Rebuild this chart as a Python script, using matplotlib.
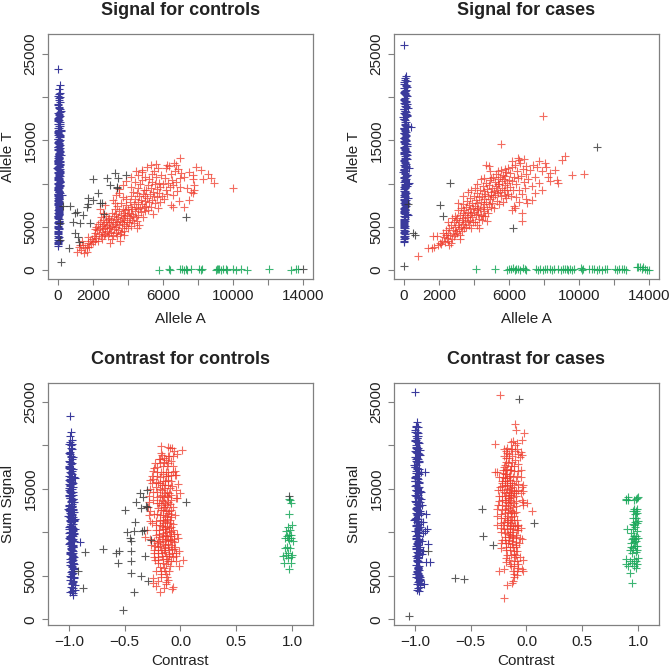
import numpy as np
import matplotlib
matplotlib.use("Agg")
import matplotlib.pyplot as plt

plt.rcParams['font.family'] = ['Liberation Sans', 'DejaVu Sans']

# ---------------- data (Allele A, Allele T) ----------------
# controls, genotype TT (blue)
blue_ctrl_T = [23300, 21400, 20950, 20480, 20160, 19870, 19420, 19110, 18730, 18450,
               18020, 17860, 17510, 17330, 17090, 16840, 16610, 16370, 16150, 15920,
               15700, 15480, 15210, 15030, 14790, 14560, 14380, 14120, 13940, 13650,
               13470, 13260, 13010, 12830, 12570, 12390, 12140, 11960, 11720, 11530,
               11290, 11080, 10860, 10610, 10440, 10230, 10010, 9820, 9590, 9370,
               9160, 8940, 8750, 8510, 8330, 8090, 7880, 7640, 7420, 7230,
               6980, 6760, 6530, 6310, 6070, 5840, 5560, 5290, 4970, 4720,
               4390, 4110, 3860, 3520, 3240, 2960, 2720, 17640, 16030, 14870,
               13720, 12660, 11410, 10540, 9710, 8620, 7950, 7110, 6420, 5710,
               15590, 13120, 11850, 10330, 9040, 18260, 12260, 9480, 8210, 6850,
               18870, 18140, 17720, 17200, 16920, 16480, 16240, 15840, 15620, 15350,
               15110, 14930, 14680, 14450, 14210, 14030, 13840, 13560, 13390, 13140,
               12930, 12720, 12480, 12210, 12050, 11870, 11630, 11380, 11170, 10940,
               10720, 10490, 10350, 10120, 9910, 9670, 9450, 9240, 9020, 8830,
               8610, 8420, 8180, 7990, 7760, 7530, 7310, 7090, 6880, 6640,
               6420, 6190, 5970, 5680, 5430, 5110, 4850, 4530, 4240, 3980,
               3690, 3370, 3090, 19650, 19230, 18580, 17970, 17410, 16690, 16070,
               15410, 14640, 13880, 13330, 12610, 11930, 11240, 10680, 10080, 9550,
               8980, 8380, 7690, 7040, 6210, 5500, 4810, 20320, 19980, 16200,
               14250, 12950, 12450, 11650, 10900, 10400, 9870, 9300, 8700, 7600]
blue_ctrl_A = [40, 110, 60, 150, 20, 90, 130, 10, 70, 160,
               45, 120, 5, 80, 140, 30, 100, 60, 170, 15,
               85, 125, 40, 150, 0, 95, 65, 135, 25, 110,
               55, 160, 10, 75, 120, 35, 145, 90, 20, 60,
               130, 45, 100, 5, 80, 150, 30, 115, 60, 10,
               90, 100, 25, 70, 80, 40, 60, 15, 55, 70,
               50, 60, 20, 75, 40, 60, 35, 45, 10, 50,
               40, 30, 50, 35, 20, 30, 25, 10, 200, 70,
               120, -15, 150, 35, 100, 220, 50, 80, 60, 70,
               0, 90, -20, 100, 60, 130, 100, 20, 70, 50,
               60, 20, 90, 40, 110, 5, 75, 30, 100, 50,
               15, 85, 45, 120, 0, 70, 35, 95, 55, 10,
               80, 25, 105, 40, 65, 0, 90, 30, 115, 50,
               20, 75, 45, 100, 10, 60, 85, 25, 70, 40,
               5, 55, 80, 30, 65, 15, 50, 70, 20, 45,
               60, 10, 40, 55, 25, 35, 50, 15, 40, 30,
               20, 45, 10, 70, 30, 100, 55, 15, 80, 40,
               110, 25, 60, 90, -10, 70, 35, 50, 95, 20,
               65, 40, 10, 60, 30, 45, 25, 50, 120, 85,
               10, 75, 35, 100, 55, 5, 70, 40, 20, 60]

# controls, genotype AT (red)
red_ctrl = [
    (1090, 2080), (1200, 2600), (1350, 2300), (1450, 2900), (1550, 2500), (1660, 2660),
    (1700, 3100), (1800, 2700), (1850, 3400), (1900, 2950), (1950, 3600), (1400, 3300),
    (1250, 2900), (1750, 3800), (2000, 3200), (1500, 1950), (1650, 2100),
    (2050, 3900), (2100, 3400), (2150, 4300), (2200, 3700), (2250, 4600), (2300, 3300),
    (2350, 4100), (2400, 4800), (2450, 3900), (2500, 4400), (2500, 5100), (2550, 3600),
    (2600, 4700), (2650, 5300), (2700, 4200), (2700, 4900), (2750, 5600), (2800, 4500),
    (2800, 5200), (2850, 3900), (2900, 4800), (2900, 5500), (2950, 6000), (2950, 4300),
    (3000, 5000), (2600, 5800), (2400, 5500), (2200, 5000), (2750, 6200), (2850, 5900),
    (2650, 4000), (2100, 4700), (2300, 5300), (2450, 6100), (2980, 3100), (2400, 7000),
    (2700, 7500), (2600, 6600),
    (3050, 4400), (3050, 5800), (3100, 5100), (3100, 6600), (3150, 4000), (3150, 5500),
    (3200, 6200), (3200, 4700), (3250, 5300), (3250, 7000), (3300, 4300), (3300, 5900),
    (3350, 6500), (3350, 5000), (3400, 5600), (3400, 7400), (3450, 4600), (3450, 6100),
    (3500, 5200), (3500, 6800), (3550, 5700), (3550, 4100), (3600, 6300), (3600, 7700),
    (3650, 4900), (3650, 5500), (3700, 6000), (3700, 7100), (3750, 5300), (3750, 6600),
    (3800, 4500), (3800, 5800), (3850, 6900), (3850, 6200), (3900, 5100), (3900, 7500),
    (3950, 6400), (3950, 5600), (4000, 4900), (4000, 7000), (3120, 3600), (3380, 3900),
    (3620, 4400), (3880, 8200), (3250, 7800), (3700, 8400), (3480, 8900), (3150, 8100),
    (3550, 3300), (3800, 4000), (3500, 9400), (3700, 9800), (3900, 10300), (3300, 8700),
    (4050, 5500), (4050, 6600), (4100, 7900), (4100, 6000), (4150, 5100), (4150, 7300),
    (4200, 6500), (4200, 8600), (4250, 5800), (4250, 7000), (4300, 6200), (4300, 9000),
    (4350, 7600), (4350, 5400), (4400, 6800), (4400, 8200), (4450, 6100), (4450, 7300),
    (4500, 8900), (4500, 5700), (4550, 7000), (4550, 9500), (4600, 6400), (4600, 7900),
    (4650, 8500), (4650, 5200), (4700, 7200), (4700, 9900), (4750, 6700), (4750, 8100),
    (4800, 7600), (4800, 10400), (4850, 6100), (4850, 8800), (4900, 7300), (4900, 9300),
    (4950, 8000), (4950, 6800), (5000, 8600), (5000, 10800), (4400, 10200), (4600, 11000),
    (4800, 11300), (4150, 9600), (4500, 4800), (4800, 11600), (4200, 10800), (4450, 11500),
    (5050, 7400), (5050, 9200), (5100, 8300), (5100, 11900), (5150, 6900), (5150, 9800),
    (5200, 7900), (5200, 10500), (5250, 8800), (5300, 7300), (5300, 9500), (5350, 11100),
    (5400, 8100), (5400, 10200), (5450, 6500), (5450, 9000), (5500, 8600), (5500, 11400),
    (5550, 7700), (5550, 9900), (5600, 10700), (5650, 8400), (5650, 9400), (5700, 7200),
    (5700, 11800), (5750, 8900), (5800, 10100), (5850, 9600), (5850, 7900), (5900, 11000),
    (5950, 8500), (6000, 9900), (5300, 12100), (5600, 12300),
    (6050, 8200), (6100, 10600), (6150, 9300), (6200, 11800), (6250, 8800), (6300, 10100),
    (6350, 12000), (6400, 9600), (6450, 7500), (6450, 11100), (6500, 10400), (6550, 8700),
    (6600, 9800), (6650, 12400), (6700, 11400), (6750, 10200), (6800, 9100), (6850, 11700),
    (6900, 8000), (6950, 10600), (7000, 12900), (7000, 9600), (6250, 12200), (6600, 7300),
    (7050, 11200), (6720, 12150),
    (7200, 10800), (7400, 9500), (7500, 11300), (7600, 9000), (7700, 10500), (7800, 9800),
    (7900, 11900), (8150, 11570), (8300, 10500), (8550, 11100), (8720, 10640), (8900, 10070),
    (9980, 9490), (7460, 8100), (7180, 7290), (7690, 11000), (7750, 9260), (7690, 8900),
]

# controls, no call (black)
black_ctrl = [
    (2010, 10530), (2810, 10640), (3270, 11220), (3440, 10640), (3900, 10990), (2980, 9830),
    (3380, 9600), (2300, 8910), (1720, 8330), (2010, 8100), (290, 7400), (690, 7400),
    (980, 6600), (1090, 6710), (1440, 6360), (1660, 7290), (1840, 5440), (1260, 5440),
    (860, 5550), (2530, 7750), (115, 5440), (980, 4280), (1150, 3820), (1200, 3240),
    (630, 2550), (115, 3470), (170, 925), (2640, 6480), (7290, 6130), (14000, 100),
    (2410, 7750), (1720, 7640), (3380, 9490),
]

# controls, genotype AA (green)
green_ctrl_A = [5760, 6330, 6430, 7000, 7100, 7190, 7290, 7390, 7580, 8050,
                8150, 8250, 9010, 9110, 9170, 9220, 9300, 9400, 9590, 9680,
                9970, 10160, 10450, 10790, 12070, 13280, 13600, 13700]
green_ctrl_T = [40, 120, 10, 60, 150, 20, 90, 0, 70, 130,
                30, 100, -20, 50, 140, 80, 10, 110, 60, 20,
                130, 40, 90, 0, 70, 30, 50, 100]

# cases, genotype TT (blue)
blue_case_T = [26030, 22480, 22170, 21860, 21530, 21240, 20870, 20610, 20330, 20080,
               19790, 19520, 19340, 19020, 18810, 18570, 18260, 18040, 17830, 17520,
               17310, 17080, 16790, 16500, 16280, 15970, 15760, 15480, 15230, 15040,
               14730, 14520, 14280, 13970, 13760, 13480, 13270, 13010, 12720, 12530,
               12260, 12010, 11780, 11540, 11230, 11020, 10790, 10510, 10280, 10060,
               9810, 9540, 9320, 9070, 8810, 8580, 8330, 8070, 7820, 7590,
               7330, 7080, 6830, 6590, 6310, 6080, 5810, 5520, 5240, 4960,
               4670, 4390, 4120, 3860, 3540, 3210, 19180, 17680, 16110, 14390,
               12880, 11390, 9920, 8450, 6960, 5680, 4520, 3930, 20490, 18690,
               15860, 13620, 11860, 10170, 9190, 7710, 6420, 5060, 16500, 14860,
               22010, 21710, 21380, 21060, 20750, 20460, 20190, 19920, 19670, 19420,
               19150, 18920, 18680, 18430, 18150, 17940, 17650, 17420, 17170, 16930,
               16660, 16390, 16180, 15880, 15620, 15360, 15130, 14880, 14620, 14380,
               14110, 13860, 13610, 13370, 13130, 12860, 12620, 12380, 12130, 11890,
               11650, 11400, 11120, 10890, 10640, 10380, 10150, 9930, 9670, 9430,
               9180, 8940, 8690, 8450, 8210, 7950, 7700, 7460, 7210, 6950,
               6700, 6460, 6190, 5950, 5650, 5380, 5110, 4820, 4540, 4250,
               3980, 3700, 3380, 21200, 19600, 18000, 16400, 14950, 13450, 12000,
               10700, 9550, 8150, 6650, 5300, 20700, 17950, 15300, 12950, 10950,
               8900, 7050, 4800, 18350, 16650, 14150, 11550, 9700, 7400, 5900]
blue_case_A = [30, 120, 50, 160, 20, 100, 140, 10, 80, 170,
               40, 130, 0, 90, 150, 25, 110, 65, 180, 15,
               95, 135, 45, 160, -10, 105, 70, 145, 30, 120,
               60, 170, 15, 85, 130, 40, 155, 95, 25, 65,
               140, 50, 290, 5, 85, 160, 35, 125, 65, 280,
               95, 70, 30, 75, 60, 45, 260, 20, 90, 50,
               55, 50, 25, 40, 230, 55, 40, 30, 15, 40,
               30, 35, 50, 40, 25, 30, 200, -20, 60, 190,
               210, -25, 240, 20, 50, 40, 50, 80, 60, 220,
               10, 190, 120, 60, 80, 150, 170, 45, 400, 30,
               70, 20, 110, 40, 90, 10, 130, 55, 25, 100,
               45, 120, 5, 80, 35, 140, 60, 15, 95, 50,
               110, 30, 75, 0, 125, 45, 90, 20, 65, 105,
               35, 80, 10, 115, 50, 70, 25, 95, 40, 60,
               15, 85, 50, 100, 30, 65, 10, 75, 45, 90,
               20, 70, 40, 55, 10, 80, 30, 60, 20, 50,
               35, 65, 15, 45, 55, 25, 40, 10, 50, 30,
               20, 45, 15, 160, 90, 130, -15, 105, 30, 150,
               60, 20, 100, 45, 35, 75, 180, 0, 110, 210,
               140, 30, 50, 60, 230, 90, 20, 180, 115, 40]

# cases, genotype AT (red)
red_case = [
    (800, 1620), (1600, 2540), (1940, 2890), (1750, 2700), (2050, 3100), (2150, 2950),
    (2200, 3400), (2300, 3800), (2350, 3200), (2400, 4000), (2250, 4300), (1900, 3900),
    (1660, 3930), (1370, 2540),
    (2450, 3700), (2500, 4300), (2550, 3300), (2600, 4800), (2650, 4000), (2700, 5200),
    (2750, 3600), (2800, 4600), (2850, 5500), (2900, 4200), (2950, 5000), (3000, 5800),
    (2550, 5600), (2700, 3100), (2850, 3900), (2600, 2900), (3000, 4500), (2900, 6200),
    (2400, 4600), (2750, 6000),
    (3050, 4300), (3050, 6000), (3100, 5200), (3100, 6900), (3150, 4700), (3150, 5600),
    (3200, 6300), (3200, 4000), (3250, 5000), (3250, 7200), (3300, 5800), (3300, 4500),
    (3350, 6600), (3350, 5300), (3400, 6000), (3400, 7600), (3450, 4800), (3450, 6900),
    (3500, 5500), (3500, 6300), (3550, 7300), (3550, 5000), (3600, 6100), (3600, 8000),
    (3650, 5700), (3650, 6700), (3700, 5200), (3700, 7500), (3750, 6300), (3750, 8300),
    (3800, 5800), (3800, 7000), (3850, 6600), (3850, 4900), (3900, 7700), (3900, 6100),
    (3950, 5500), (3950, 7200), (4000, 6700), (4000, 8600), (3080, 7750), (3650, 9000),
    (3400, 8500), (3850, 9300), (3200, 3600),
    (4050, 5600), (4050, 7400), (4100, 6300), (4100, 8100), (4150, 6900), (4150, 5200),
    (4200, 7700), (4200, 8900), (4250, 6500), (4250, 7200), (4300, 5900), (4300, 8400),
    (4350, 7000), (4350, 9300), (4400, 6400), (4400, 7900), (4450, 8600), (4450, 5800),
    (4500, 7300), (4500, 9700), (4550, 6800), (4550, 8200), (4600, 7600), (4600, 9100),
    (4650, 6200), (4650, 8800), (4700, 7900), (4700, 10100), (4750, 7100), (4750, 9400),
    (4800, 8500), (4800, 6600), (4850, 9800), (4850, 7600), (4900, 8200), (4900, 10400),
    (4950, 7300), (4950, 9000), (5000, 8700), (5000, 10600), (4850, 12030), (4700, 12200),
    (4400, 10500), (4200, 9900), (4600, 10600), (4900, 11400), (4300, 4900), (4750, 5700),
    (4050, 9500), (4500, 6200),
    (5050, 7800), (5050, 9500), (5100, 8400), (5100, 10800), (5150, 9100), (5150, 7200),
    (5200, 10200), (5200, 8700), (5250, 9700), (5250, 11100), (5300, 8000), (5300, 9300),
    (5350, 10500), (5350, 8900), (5400, 9900), (5400, 11400), (5450, 7600), (5450, 10000),
    (5500, 9000), (5500, 10700), (5550, 8500), (5550, 11600), (5600, 9500), (5600, 10300),
    (5650, 7900), (5650, 11000), (5700, 9200), (5700, 10500), (5750, 8700), (5750, 11700),
    (5800, 9800), (5800, 10900), (5850, 8300), (5850, 11300), (5900, 10100), (5900, 9300),
    (5950, 11800), (5950, 8800), (6000, 10400), (5540, 14580),
    (6050, 9600), (6050, 11200), (6100, 8600), (6150, 10300), (6170, 6940), (6200, 11900),
    (6250, 9200), (6300, 10800), (6350, 12200), (6400, 8400), (6400, 9900), (6450, 11500),
    (6500, 10600), (6550, 7900), (6600, 9300), (6650, 12400), (6700, 10900), (6740, 5670),
    (6750, 8800), (6800, 11700), (6850, 10200), (6900, 9500), (6950, 12000), (7000, 11100),
    (7000, 8200), (6300, 7400), (6600, 12700), (6850, 12800), (6500, 13000), (6150, 12600),
    (6340, 7170), (6740, 6600),
    (7100, 10500), (7200, 11600), (7300, 9700), (7400, 12100), (7480, 8910), (7310, 8100),
    (7500, 10800), (7600, 11900), (7700, 10100), (7880, 9260), (7900, 11400), (7940, 17820),
    (8050, 12380), (8200, 10800), (8340, 11220), (8340, 10300), (8620, 11570), (8740, 10410),
    (8790, 10070), (9020, 12730), (9190, 13190), (9590, 10990), (10280, 11110), (7700, 12600),
    (8100, 11900), (7020, 7750),
]

# cases, no call (black)
black_case = [
    (-5, 405), (230, 7640), (510, 4280), (630, 4050), (2060, 7520), (2230, 6250),
    (2630, 10070), (6220, 4860), (11020, 14230),
]

# cases, genotype AA (green)
green_case_A = [4110, 5200, 5900, 6010, 6090, 6210, 6340, 6430, 6530, 6620,
                6780, 6910, 7000, 7540, 7670, 7800, 7920, 8050, 8150, 8340,
                8430, 8570, 8810, 8950, 9060, 9190, 9290, 9380, 9480, 9570,
                9710, 10090, 10150, 10200, 10580, 10720, 10850, 11000, 11150, 11290,
                11480, 11610, 12050, 12140, 12300, 12430, 12560, 12680, 13290, 13380,
                13480, 13570, 13670, 13760, 13890, 14000]
green_case_T = [60, 100, 20, 140, 50, 170, 10, 80, 120, 30,
                190, 60, 0, 110, 40, 150, 20, 90, 130, 50,
                10, 140, 70, 30, 120, 60, 100, 0, 80, 40,
                150, 270, 20, 110, 60, 90, 130, 30, 70, 10,
                120, 50, 80, 20, 140, 60, 100, 40, 360, 300,
                380, 120, 330, 60, 20, 0]

BLUE = '#3a3a9c'
RED = '#ef3b2b'
GREEN = '#1aa85a'
BLACK = '#333333'
TEXT = '#222222'
FRAME = '#808080'


def contrast(a, t):
    # affy style contrast, K = 2
    a = np.asarray(a, dtype=float)
    t = np.asarray(t, dtype=float)
    return np.sinh(2 * (a - t) / (a + t)) / np.sinh(2)


def groups_for(blue_A, blue_T, red, black, green_A, green_T):
    red = np.array(red, dtype=float)
    black = np.array(black, dtype=float)
    return [
        (np.array(blue_A, float), np.array(blue_T, float), BLUE, 1.0),
        (red[:, 0], red[:, 1], RED, 0.75),
        (np.array(green_A, float), np.array(green_T, float), GREEN, 0.85),
        (black[:, 0], black[:, 1], BLACK, 0.8),
    ]


def style_axes(ax, title, xlabel, ylabel, xpad):
    for sp in ax.spines.values():
        sp.set_color(FRAME)
        sp.set_linewidth(0.9)
    ax.tick_params(axis='both', which='both', direction='out', length=4.5, width=0.8,
                   color=FRAME, labelcolor=TEXT, labelsize=11, pad=3)
    ax.tick_params(top=False, right=False)
    ax.set_yticks([0, 5000, 10000, 15000, 20000, 25000])
    ax.set_yticklabels(['0', '5000', '', '15000', '', '25000'], rotation=90, va='center')
    ax.set_title(title, fontsize=13, fontweight='bold', color=TEXT, pad=14)
    ax.set_xlabel(xlabel, fontsize=11, color=TEXT, labelpad=xpad)
    ax.set_ylabel(ylabel, fontsize=11, color=TEXT, labelpad=6)


def signal_panel(ax, groups, title):
    for a, t, col, al in groups:
        ax.scatter(a, t, marker='+', s=38, linewidths=0.8, color=col, alpha=al)
    ax.set_xlim(-560, 14560)
    ax.set_ylim(-1050, 27310)
    ax.set_xticks(np.arange(0, 14001, 2000))
    ax.set_xticklabels(['0', '2000', '', '6000', '', '10000', '', '14000'])
    style_axes(ax, title, 'Allele A', 'Allele T', 6)


def contrast_panel(ax, groups, title):
    for a, t, col, al in groups:
        ax.scatter(contrast(a, t), a + t, marker='+', s=38, linewidths=0.8, color=col, alpha=al)
    ax.set_xlim(-1.188, 1.188)
    ax.set_ylim(-650, 27130)
    ax.set_xticks([-1.0, -0.5, 0.0, 0.5, 1.0])
    ax.set_xticklabels(['\u22121.0', '\u22120.5', '0.0', '0.5', '1.0'])
    style_axes(ax, title, 'Contrast', 'Sum Signal', 3.5)


ctrl = groups_for(blue_ctrl_A, blue_ctrl_T, red_ctrl, black_ctrl, green_ctrl_A, green_ctrl_T)
case = groups_for(blue_case_A, blue_case_T, red_case, black_case, green_case_A, green_case_T)

fig = plt.figure(figsize=(6.69, 6.70), dpi=100)
ax1 = fig.add_axes([0.0717, 0.5836, 0.3961, 0.3657])
ax2 = fig.add_axes([0.5889, 0.5836, 0.3961, 0.3657])
ax3 = fig.add_axes([0.0717, 0.0672, 0.3961, 0.3612])
ax4 = fig.add_axes([0.5889, 0.0672, 0.3961, 0.3612])

signal_panel(ax1, ctrl, 'Signal for controls')
signal_panel(ax2, case, 'Signal for cases')
contrast_panel(ax3, ctrl, 'Contrast for controls')
contrast_panel(ax4, case, 'Contrast for cases')

fig.savefig('out.png', dpi=100)
